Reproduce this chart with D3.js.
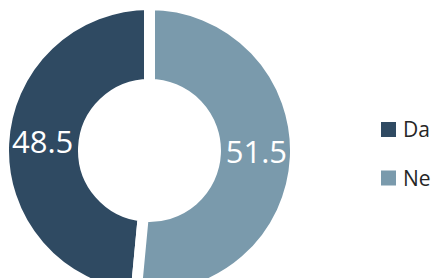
<!DOCTYPE html>
<html>
<head>
<meta charset="utf-8">
<style>
  html, body { margin: 0; padding: 0; background: #fff; }
  svg { display: block; }
</style>
<script src="https://d3js.org/d3.v7.min.js"></script>
</head>
<body>
<div id="chart"></div>
<script>
var categories = ["Da", "Ne"];
var values = [48.5, 51.5];
var colors = ["#2f4a62", "#7a9aac"];

var width = 435, height = 278;
var cx = 149.5, cy = 150.5;
var gap = 11;               // white border between slices
var outer = 140.5 + gap / 2;
var inner = 71.5 - gap / 2;

var svg = d3.select("#chart").append("svg")
    .attr("width", width)
    .attr("height", height);

var total = d3.sum(values);
// Da ends at 12 o'clock, Ne starts there going clockwise
var pie = d3.pie()
    .sort(null)
    .startAngle(-2 * Math.PI * values[0] / total)
    .endAngle(2 * Math.PI * values[1] / total);

var arcs = pie(values);

var arc = d3.arc().innerRadius(inner).outerRadius(outer);
var labelArc = d3.arc().innerRadius(107).outerRadius(107);

var g = svg.append("g").attr("transform", "translate(" + cx + "," + cy + ")");

g.selectAll("path")
    .data(arcs)
    .enter()
    .append("path")
    .attr("d", arc)
    .attr("fill", function (d, i) { return colors[i]; })
    .attr("stroke", "#fff")
    .attr("stroke-width", gap)
    .attr("stroke-linejoin", "miter");

g.selectAll("text")
    .data(arcs)
    .enter()
    .append("text")
    .attr("transform", function (d) {
        var c = labelArc.centroid(d);
        return "translate(" + c[0] + "," + (c[1] - 3.5) + ")";
    })
    .attr("text-anchor", "middle")
    .attr("dy", "0.36em")
    .attr("fill", "#fff")
    .style("font-family", "'Open Sans', sans-serif")
    .style("font-size", "31px")
    .text(function (d) { return d3.format(".1f")(d.data); });

// legend
var legendY = d3.scalePoint().domain(categories).range([129.5, 178]);

var leg = svg.selectAll(".leg")
    .data(categories)
    .enter()
    .append("g")
    .attr("class", "leg")
    .attr("transform", function (d) { return "translate(381," + legendY(d) + ")"; });

leg.append("rect")
    .attr("x", 0)
    .attr("y", -7.5)
    .attr("width", 15)
    .attr("height", 15)
    .attr("fill", function (d, i) { return colors[i]; });

leg.append("text")
    .attr("x", 22)
    .attr("y", 7.5)
    .attr("fill", "#262626")
    .style("font-family", "'Open Sans', sans-serif")
    .style("font-size", "21px")
    .text(function (d) { return d; });
</script>
</body>
</html>
